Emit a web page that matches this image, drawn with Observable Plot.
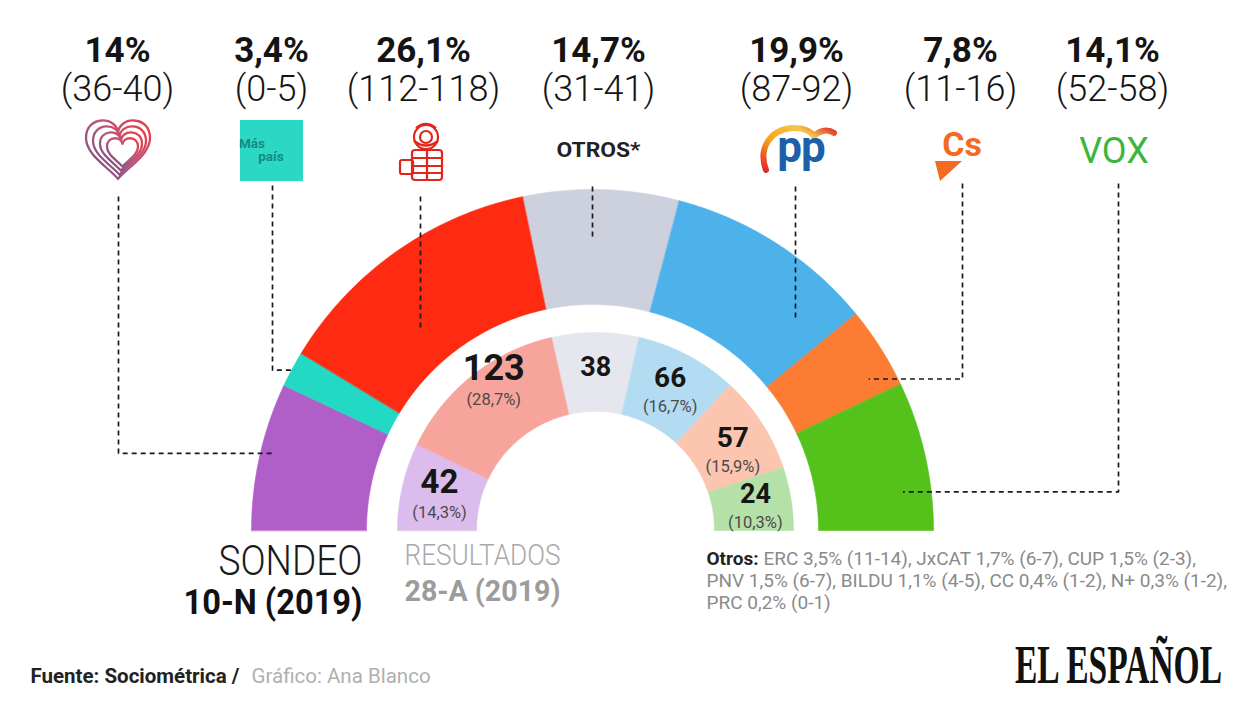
<!DOCTYPE html>
<html><head><meta charset="utf-8">
<script src="https://cdn.jsdelivr.net/npm/d3@7"></script>
<script src="https://cdn.jsdelivr.net/npm/@observablehq/plot@0.6"></script>
<style>
html,body{margin:0;padding:0;background:#fff;}
#chart{width:1248px;height:702px;overflow:hidden}
</style></head><body><div id="chart"></div>
<script>
// ---------------- DATA ----------------
const parties      = ["UP", "Más País", "PSOE", "Otros", "PP", "Cs", "Vox"];
const pollPct      = [14, 3.4, 26.1, 14.7, 19.9, 7.8, 14.1];           // Sondeo 10-N (% voto)
const pollSeats    = ["36-40", "0-5", "112-118", "31-41", "87-92", "11-16", "52-58"];
const pollColors   = ["#b05ec8", "#22d9c3", "#fe2b12", "#cdd0dd", "#4db1ea", "#fd7c34", "#54c21b"];

const prevParties  = ["UP", "PSOE", "Otros", "PP", "Cs", "Vox"];
const prevSeats    = [42, 123, 38, 66, 57, 24];                          // Resultados 28-A
const prevPct      = [14.3, 28.7, 14.1, 16.7, 15.9, 10.3];
const prevShowPct  = [true, true, false, true, true, true];
const prevColors   = ["#dcbcec", "#f7a59c", "#e6e7ee", "#b3dcf3", "#fbc5b0", "#b5e1a8"];

const otrosNames   = ["ERC", "JxCAT", "CUP", "PNV", "BILDU", "CC", "N+", "PRC"];
const otrosPct     = [3.5, 1.7, 1.5, 1.5, 1.1, 0.4, 0.3, 0.2];
const otrosSeats   = ["11-14", "6-7", "2-3", "6-7", "4-5", "1-2", "1-2", "0-1"];
const otrosLines   = [[0, 1, 2], [3, 4, 5, 6], [7]];

// ---------------- LAYOUT ----------------
const W = 1248, H = 702;
const outerRing = {cx: 592, cy: 530, r0: 226, r1: 341};
const innerRing = {cx: 595, cy: 530, r0: 119, r1: 198};
const labelX  = [117, 271, 423, 598, 796, 960, 1112];
const leaderX = [118, 272, 420, 592, 795, 962, 1118];
const leaderLayout = [
  {top: 196, kind: "elbow", t: 0.54, r: 328},
  {top: 185, kind: "elbow", t: 0.51, r: 338},
  {top: 196, kind: "v", r: 264},
  {top: 186, kind: "v", r: 290},
  {top: 186, kind: "v", r: 292},
  {top: 183, kind: "elbow", t: 0.76, r: 315},
  {top: 183, kind: "elbow", t: 0.72, r: 313}
];
const innerLabelR = [160, 180, 163, 160, 160, 162];
const innerAngleNudge = [0, 4, 0, 0, 2, 0];
const innerNumSize = [33, 36, 27, 28, 28, 27];

const fmt = v => (Number.isInteger(v) ? String(v) : v.toFixed(1).replace(".", ",")) + "%";
const rad = d => d * Math.PI / 180;
function pt(ring, deg, r) { return {x: ring.cx - r * Math.cos(rad(deg)), y: ring.cy - r * Math.sin(rad(deg))}; }
function segs(names, vals, colors) {
  const total = d3.sum(vals); let acc = 0;
  return names.map((n, i) => { const a0 = acc / total * 180; acc += vals[i]; return {name: n, i, a0, a1: acc / total * 180, color: colors[i]}; });
}
function ringPoints(sg, ring) {
  const pts = [];
  for (const s of sg) {
    const n = Math.max(6, Math.ceil((s.a1 - s.a0) * 2));
    for (let k = 0; k <= n; k++) pts.push({...pt(ring, s.a0 + (s.a1 - s.a0) * k / n, ring.r1), key: s.name, color: s.color});
    for (let k = n; k >= 0; k--) pts.push({...pt(ring, s.a0 + (s.a1 - s.a0) * k / n, ring.r0), key: s.name, color: s.color});
  }
  return pts;
}
const outerSegs = segs(parties, pollPct, pollColors);
const innerSegs = segs(prevParties, prevPct, prevColors);
const outerPts = ringPoints(outerSegs, outerRing);
const innerPts = ringPoints(innerSegs, innerRing);

// leader lines
const leaderPts = [];
outerSegs.forEach((s, i) => {
  const L = leaderLayout[i], lx = leaderX[i];
  if (L.kind === "v") {
    const y = outerRing.cy - Math.sqrt(L.r * L.r - (lx - outerRing.cx) ** 2);
    leaderPts.push({x: lx, y: L.top, k: s.name}, {x: lx, y, k: s.name});
  } else {
    const p = pt(outerRing, s.a0 + L.t * (s.a1 - s.a0), L.r);
    leaderPts.push({x: lx, y: L.top, k: s.name}, {x: lx, y: p.y, k: s.name}, {x: p.x, y: p.y, k: s.name});
  }
});

// inner labels
const innerLabels = innerSegs.map((s, i) => {
  const p = pt(innerRing, (s.a0 + s.a1) / 2 + innerAngleNudge[i], innerLabelR[i]);
  return {x: p.x, y: p.y, seats: prevSeats[i], pct: prevPct[i], show: prevShowPct[i], size: innerNumSize[i]};
});

// otros note lines
const otrosText = otrosLines.map((idx, li) =>
  idx.map(j => `${otrosNames[j]} ${fmt(otrosPct[j])} (${otrosSeats[j]})`).join(", ") + (li < otrosLines.length - 1 ? "," : ""));

const idx7 = d3.range(parties.length);

const plot = Plot.plot({
  width: W, height: H, margin: 0,
  x: {domain: [0, W], range: [0, W], axis: null},
  y: {domain: [0, H], range: [0, H], axis: null},
  color: {type: "identity"},
  style: {fontFamily: "Roboto, 'Noto Sans', sans-serif", background: "#fff"},
  marks: [
    Plot.line(outerPts, {x: "x", y: "y", z: "key", fill: "color", stroke: "color", strokeWidth: 0.6, curve: "linear-closed"}),
    Plot.line(innerPts, {x: "x", y: "y", z: "key", fill: "color", stroke: "color", strokeWidth: 0.6, curve: "linear-closed"}),
    Plot.line(leaderPts, {x: "x", y: "y", z: "k", stroke: "#1a1a1a", strokeWidth: 1.7, strokeDasharray: "5,4", strokeLinecap: "butt"}),
    // top labels
    Plot.text(idx7, {x: i => labelX[i], y: 50, text: i => fmt(pollPct[i]), fontSize: 35, fontWeight: "bold", fill: "#141414"}),
    Plot.text(idx7, {x: i => labelX[i], y: 89, text: i => `(${pollSeats[i]})`, fontSize: 36, fontWeight: 300, fill: "#141414"}),
    Plot.text(["OTROS*"], {x: labelX[3], y: 150, text: d => d, fontSize: 20, fontWeight: "bold", fill: "#222", className: "fit84"}),
    // inner ring labels
    Plot.text(innerLabels, {x: "x", y: d => d.show ? d.y - d.size * 0.38 : d.y, text: d => String(d.seats), fontSize: d => d.size, fontWeight: "bold", fill: "#161616"}),
    Plot.text(innerLabels.filter(d => d.show), {x: "x", y: d => d.y + 18, text: d => `(${fmt(d.pct)})`, fontSize: 16.5, fill: "#4a4a4a"}),
    // ring titles
    Plot.text(["SONDEO"], {x: 362, y: 561, text: d => d, textAnchor: "end", fontSize: 43, fontWeight: 300, fill: "#1a1a1a", className: "fit144"}),
    Plot.text(["10-N (2019)"], {x: 362, y: 602, text: d => d, textAnchor: "end", fontSize: 35, fontWeight: "bold", fill: "#111", className: "fit179"}),
    Plot.text(["RESULTADOS"], {x: 404, y: 555, text: d => d, textAnchor: "start", fontSize: 30, fontWeight: 300, fill: "#a9a9a9", className: "fit156"}),
    Plot.text(["28-A (2019)"], {x: 404, y: 591, text: d => d, textAnchor: "start", fontSize: 30, fontWeight: "bold", fill: "#9c9c9c", className: "fit156"}),
    // otros note
    Plot.text(["Otros:"], {x: 706, y: 558, text: d => d, textAnchor: "start", fontSize: 19, fontWeight: "bold", fill: "#222"}),
    Plot.text(otrosText, {x: (d, i) => i === 0 ? 763 : 706, y: (d, i) => 558 + i * 22, text: d => d, textAnchor: "start", fontSize: 19, fill: "#8a8a8a"}),
    // footer
    Plot.text(["Fuente: Sociométrica /"], {x: 30, y: 676, text: d => d, textAnchor: "start", fontSize: 20.5, fontWeight: "bold", fill: "#222"}),
    Plot.text(["Gráfico: Ana Blanco"], {x: 251, y: 676, text: d => d, textAnchor: "start", fontSize: 20.5, fill: "#b0b0b0"}),
    Plot.text(["EL ESPAÑOL"], {x: 1118, y: 665, text: d => d, textAnchor: "middle", fontSize: 36, fontWeight: "bold", fill: "#111", fontFamily: "'Liberation Serif', 'DejaVu Serif', serif", className: "fit207"})
  ]
});
document.getElementById("chart").append(plot);

// fit some titles to measured widths
d3.select(plot).selectAll("g[class*='fit'] text").each(function () {
  const g = this.parentNode;
  const m = /fit(\d+)/.exec(g.getAttribute("class"));
  if (m) { this.setAttribute("textLength", m[1]); this.setAttribute("lengthAdjust", "spacingAndGlyphs"); }
});
// taller serif wordmark
d3.select(plot).selectAll("g.fit207 text").each(function () {
  const t = this.getAttribute("transform") || "";
  this.setAttribute("transform", t + " scale(1,1.55)");
});

// ---------------- LOGOS (decorative) ----------------
const svg = d3.select(plot);
const defs = svg.append("defs");
const gH = defs.append("linearGradient").attr("id", "hg").attr("x1", "0").attr("x2", "1").attr("y1", "1").attr("y2", "0");
gH.append("stop").attr("offset", "0").attr("stop-color", "#6f4e8c");
gH.append("stop").attr("offset", "0.55").attr("stop-color", "#b9577a");
gH.append("stop").attr("offset", "1").attr("stop-color", "#ef3845");
const gP = defs.append("linearGradient").attr("id", "pg").attr("x1", "0").attr("x2", "1").attr("y1", "1").attr("y2", "0");
gP.append("stop").attr("offset", "0").attr("stop-color", "#e3262b");
gP.append("stop").attr("offset", "0.4").attr("stop-color", "#f7a21b");
gP.append("stop").attr("offset", "0.75").attr("stop-color", "#f5c64a");
gP.append("stop").attr("offset", "1").attr("stop-color", "#e3262b");

const logos = svg.append("g");
// UP heart
const heart = s => `M0,${-0.22 * s} C0,${-0.5 * s} ${-0.5 * s},${-0.52 * s} ${-0.5 * s},${-0.16 * s} C${-0.5 * s},${0.1 * s} ${-0.18 * s},${0.28 * s} 0,${0.48 * s} C${0.18 * s},${0.28 * s} ${0.5 * s},${0.1 * s} ${0.5 * s},${-0.16 * s} C${0.5 * s},${-0.52 * s} 0,${-0.5 * s} 0,${-0.22 * s} Z`;
[64, 53, 42, 31].forEach((s, k) => logos.append("path").attr("d", heart(s))
  .attr("transform", `translate(${118 + k * 1.5},${148 + k * 1.2})`).attr("fill", "none").attr("stroke", "url(#hg)").attr("stroke-width", 2.3));
// Más País
logos.append("rect").attr("x", 240).attr("y", 120).attr("width", 63).attr("height", 61).attr("fill", "#2bd8c3");
logos.append("text").attr("x", 252).attr("y", 148).attr("font-size", 13.5).attr("font-weight", "bold").attr("fill", "#178a80").attr("font-family", "Roboto").text("Más");
logos.append("text").attr("x", 271).attr("y", 161).attr("font-size", 13.5).attr("font-weight", "bold").attr("fill", "#178a80").attr("font-family", "Roboto").text("país");
// PSOE rose & fist
const ps = logos.append("g").attr("fill", "none").attr("stroke", "#e3261d").attr("stroke-width", 2.2);
ps.append("circle").attr("cx", 426).attr("cy", 137).attr("r", 12);
ps.append("circle").attr("cx", 426).attr("cy", 137).attr("r", 6);
ps.append("path").attr("d", "M416,128 Q426,120 436,128 M414,141 Q426,150 438,141");
ps.append("rect").attr("x", 412).attr("y", 150).attr("width", 30).attr("height", 30).attr("rx", 3);
ps.append("path").attr("d", "M412,158 H442 M412,166 H442 M412,173 H442 M427,150 V180");
ps.append("rect").attr("x", 400).attr("y", 160).attr("width", 13).attr("height", 14).attr("rx", 2);
// PP
logos.append("path").attr("d", "M766,170 C758,148 770,130 792,128 C805,127 812,133 814,136 C820,130 828,129 834,133")
  .attr("fill", "none").attr("stroke", "url(#pg)").attr("stroke-width", 6).attr("stroke-linecap", "round");
logos.append("text").attr("x", 801).attr("y", 162).attr("text-anchor", "middle").attr("font-size", 44).attr("font-weight", "bold")
  .attr("fill", "#1c5fab").attr("font-family", "Roboto").attr("letter-spacing", "-1").text("pp");
// Cs
logos.append("text").attr("x", 962).attr("y", 156).attr("text-anchor", "middle").attr("font-size", 34).attr("font-weight", "bold")
  .attr("fill", "#f36b22").attr("font-family", "Roboto").text("Cs");
logos.append("path").attr("d", "M935,161 L962,161 L940,181 Z").attr("fill", "#f36b22");
// VOX
logos.append("text").attr("x", 1114).attr("y", 163).attr("text-anchor", "middle").attr("font-size", 36)
  .attr("fill", "#3cb63a").attr("font-family", "Roboto").text("VOX");
</script>
</body></html>
